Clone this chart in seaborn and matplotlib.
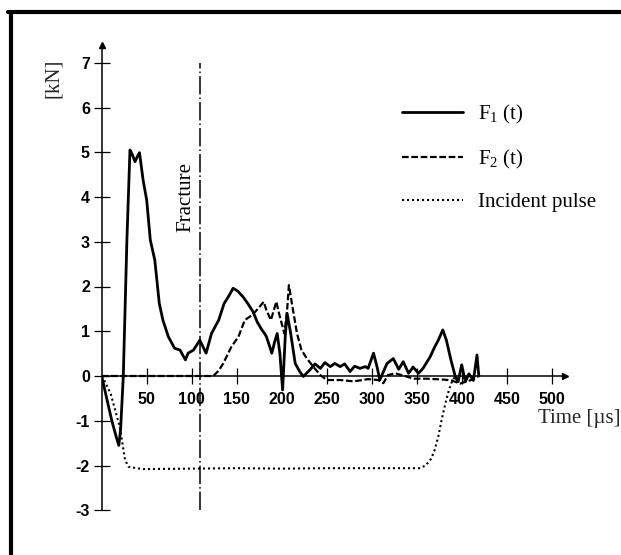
import numpy as np
import pandas as pd
import matplotlib
matplotlib.use("Agg")
import matplotlib.pyplot as plt
import seaborn as sns
from matplotlib.lines import Line2D

# ---------------- data ----------------
t_f1 = [0, 5, 11, 16, 19, 21, 24, 28, 31.4, 34, 37, 40, 42, 46, 50, 54, 59, 64, 68, 74,
        81, 87, 93, 96, 102, 109, 116, 122, 130, 136, 141, 146, 151, 157, 163, 168, 173,
        178, 181, 183, 186, 189, 192, 195, 198, 201, 204, 206, 210, 215, 220, 224, 231,
        237, 243, 248, 254, 259, 265, 270, 276, 281, 287, 293, 296, 302, 306, 309, 312,
        317, 324, 330, 335, 341, 346, 352, 357, 365, 370, 374, 379, 383, 388, 393, 396,
        400, 404, 408, 413, 417, 419]
f1 = [0, -0.45, -0.98, -1.35, -1.55, -1.2, 0.0, 3.04, 5.05, 4.95, 4.79, 4.92, 4.99, 4.38,
      3.93, 3.04, 2.59, 1.62, 1.25, 0.88, 0.62, 0.58, 0.36, 0.51, 0.58, 0.8, 0.51, 0.95,
      1.25, 1.62, 1.78, 1.96, 1.9, 1.77, 1.6, 1.44, 1.2, 1.03, 0.95, 0.88, 0.7, 0.51, 0.75,
      0.95, 0.5, -0.31, 0.9, 1.4, 0.95, 0.28, 0.1, -0.01, 0.13, 0.27, 0.17, 0.3, 0.21, 0.28,
      0.21, 0.27, 0.1, 0.22, 0.17, 0.21, 0.17, 0.51, 0.2, -0.09, 0.05, 0.28, 0.39, 0.15,
      0.32, 0.06, 0.2, 0.06, 0.17, 0.43, 0.65, 0.8, 1.03, 0.8, 0.36, -0.02, -0.13, 0.25,
      -0.13, 0.05, -0.1, 0.47, 0.0]

t_f2 = [0, 60, 124, 130, 135, 144, 152, 159, 167, 174, 180, 183, 188, 194, 198, 203, 206,
        208, 212, 217, 222, 228, 235, 243, 250, 265, 280, 296, 307, 313, 318, 326, 337, 346,
        361, 380, 389, 398, 409, 418]
f2 = [0, 0, 0, 0.12, 0.28, 0.65, 0.88, 1.25, 1.36, 1.51, 1.66, 1.47, 1.25, 1.66, 1.32, 0.95,
      1.47, 2.03, 1.54, 0.95, 0.58, 0.39, 0.21, 0.02, -0.09, -0.09, -0.12, -0.07, -0.09,
      -0.16, 0.02, 0.06, 0.0, -0.06, -0.06, -0.08, -0.1, -0.17, -0.1, -0.02]

t_inc = [0, 2, 10, 20, 26, 30, 45, 100, 150, 200, 250, 300, 353, 360, 366, 370, 374, 378,
         382, 386, 390, 394]
f_inc = [0, -0.06, -0.4, -1.13, -1.88, -2.03, -2.08, -2.07, -2.06, -2.07, -2.06, -2.06,
         -2.06, -2.0, -1.85, -1.65, -1.35, -0.95, -0.6, -0.3, -0.08, 0.0]

series_labels = ["F$_1$ (t)", "F$_2$ (t)", "Incident pulse"]
x_ticks = [50, 100, 150, 200, 250, 300, 350, 400, 450, 500]
y_ticks = [-3, -2, -1, 0, 1, 2, 3, 4, 5, 6, 7]
fracture_time = 109

# ---------------- style ----------------
sns.set_theme(style="white")
plt.rcParams["font.family"] = ["Liberation Serif", "DejaVu Serif"]
plt.rcParams["mathtext.fontset"] = "custom"
plt.rcParams["mathtext.rm"] = "Liberation Serif"
plt.rcParams["mathtext.it"] = "Liberation Serif:italic"
plt.rcParams["mathtext.bf"] = "Liberation Serif:bold"

W, H = 621, 555
fig = plt.figure(figsize=(W / 100, H / 100), dpi=100)
fig.patch.set_facecolor("white")

# axes placement: x=0 at 101.7 px, 0.9 px/us ; y=0 at 376 px, 44.75 px/kN
x0_px, x1_px = 101.7, 101.7 + 515 * 0.9
y_top_px, y_bot_px = 376 - 7.4 * 44.75, 376 + 3 * 44.75
ax = fig.add_axes([x0_px / W, (H - y_bot_px) / H, (x1_px - x0_px) / W,
                   (y_bot_px - y_top_px) / H])
ax.set_facecolor("white")

df1 = pd.DataFrame({"time": t_f1, "force": f1})
df2 = pd.DataFrame({"time": t_f2, "force": f2})
df3 = pd.DataFrame({"time": t_inc, "force": f_inc})

sns.lineplot(data=df1, x="time", y="force", ax=ax, color="black", lw=2.0,
             estimator=None, sort=False, label=series_labels[0])
sns.lineplot(data=df2, x="time", y="force", ax=ax, color="black", lw=1.6,
             linestyle=(0, (3, 1.2)), estimator=None, sort=False, label=series_labels[1])
sns.lineplot(data=df3, x="time", y="force", ax=ax, color="black", lw=1.5,
             linestyle=(0, (1, 1.4)), estimator=None, sort=False, label=series_labels[2])

# fracture line
ax.axvline(fracture_time, ymin=0, ymax=10 / 10.4,
           color="black", lw=1.1, linestyle=(0, (12, 2, 1, 2)))
ax.text(93.5, 4.0, "Fracture", rotation=90, ha="center", va="center", fontsize=15,
        color="black")

ax.set_xlim(0, 515)
ax.set_ylim(-3, 7.4)

# spines as arrowed axes
for s in ["top", "right"]:
    ax.spines[s].set_visible(False)
ax.spines["bottom"].set_position(("data", 0))
ax.spines["left"].set_bounds(-3, 7.4)
for s in ["left", "bottom"]:
    ax.spines[s].set_color("black")
    ax.spines[s].set_linewidth(1.1)
ax.plot(1, 0, ">", color="black", ms=5, transform=ax.get_yaxis_transform(), clip_on=False)
ax.plot(0, 1, "^", color="black", ms=5, transform=ax.get_xaxis_transform(), clip_on=False)

ax.set_xticks(x_ticks)
ax.set_yticks(y_ticks)
ax.set_xticklabels([str(v) for v in x_ticks])
ax.set_yticklabels([str(v) for v in y_ticks])
ax.tick_params(axis="both", direction="inout", length=11, width=0.9, color="black",
               labelcolor="black", bottom=True, left=True)
ax.tick_params(axis="x", pad=6)
ax.tick_params(axis="y", pad=3)
for lab in ax.get_xticklabels() + ax.get_yticklabels():
    lab.set_family(["Liberation Sans", "DejaVu Sans"])
    lab.set_fontweight("bold")
    lab.set_fontsize(11.5)

ax.set_xlabel("Time [µs]", fontsize=15, ha="left", va="center")
ax.xaxis.set_label_coords((538 - x0_px) / (x1_px - x0_px),
                          (y_bot_px - 418) / (y_bot_px - y_top_px))
ax.set_ylabel("[kN]", fontsize=15, rotation=90, ha="center", va="center")
ax.yaxis.set_label_coords((53 - x0_px) / (x1_px - x0_px),
                          (y_bot_px - 78) / (y_bot_px - y_top_px))

leg = ax.legend(loc="upper left", bbox_to_anchor=(401.7 / W, 1 - 103 / H),
                bbox_transform=fig.transFigure, frameon=False, fontsize=15,
                handlelength=2.95, handletextpad=0.72, labelspacing=1.05,
                borderpad=0, borderaxespad=0)
for txt in leg.get_texts():
    txt.set_color("black")

# outer frame (top and left edges of the scanned page)
fig.add_artist(Line2D([8 / W, 1.0], [1 - 12 / H, 1 - 12 / H], transform=fig.transFigure,
                      color="black", lw=3))
fig.add_artist(Line2D([10.5 / W, 10.5 / W], [0, 1 - 12 / H], transform=fig.transFigure,
                      color="black", lw=3))

fig.savefig("out.png", dpi=100, facecolor="white")
